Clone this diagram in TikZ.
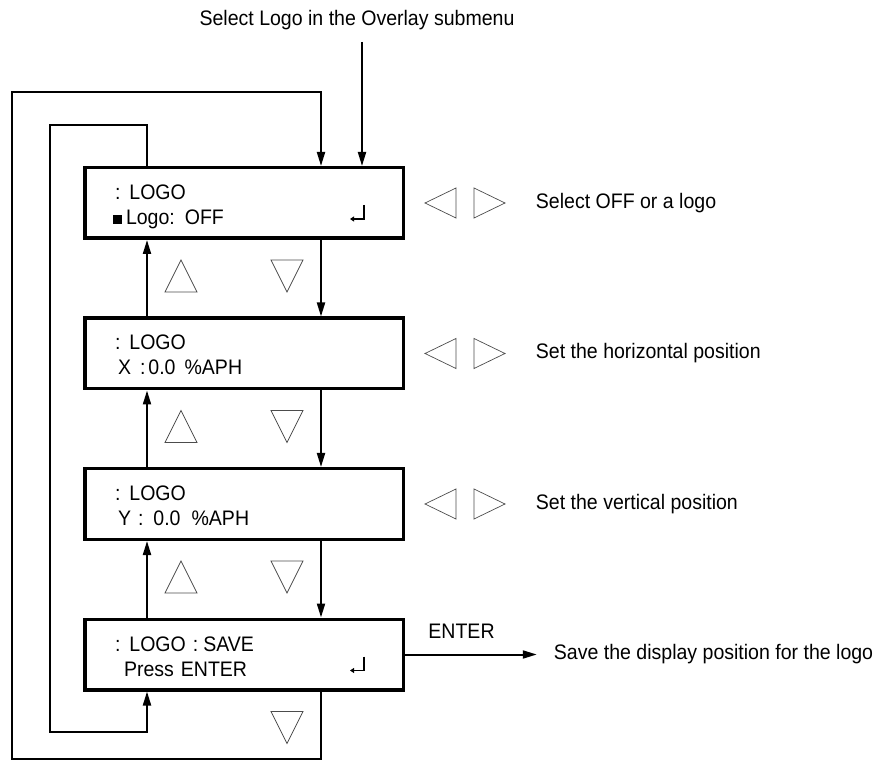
\documentclass[tikz,border=0pt]{standalone}
\usepackage{fontspec}
\setmainfont[FakeStretch=0.93]{Liberation Sans}
\usetikzlibrary{positioning, arrows.meta}
\tikzset{
    lcd/.style={rectangle, draw=black, line width=3.5pt, minimum width=318.5pt, minimum height=70.5pt, inner xsep=30.25pt, inner ysep=0pt, text width=258pt, align=left, text height=17pt, text depth=24pt, font=\fontsize{21}{25}\selectfont},
    note/.style={inner sep=0pt, font=\fontsize{21}{25}\selectfont},
    flow/.style={line width=2pt, -{Triangle[length=14pt, width=8pt]}},
    key/.style={line width=0.7pt, draw=black!70},
    ret/.style={line width=1.3pt, -{Triangle[length=4pt, width=5pt]}},
}
\newcommand{\lrkeys}[1]{%
    \draw[key] ([xshift=20pt]#1.east) -- ([xshift=51pt,yshift=15pt]#1.east) -- ([xshift=51pt,yshift=-15pt]#1.east) -- cycle;
    \draw[key] ([xshift=100pt]#1.east) -- ([xshift=69pt,yshift=15pt]#1.east) -- ([xshift=69pt,yshift=-15pt]#1.east) -- cycle;
}
\newcommand{\upkey}[1]{%
    \draw[key] ([xshift=98pt,yshift=-20pt]#1.south west) -- ([xshift=82pt,yshift=-52pt]#1.south west) -- ([xshift=114pt,yshift=-52pt]#1.south west) -- cycle;
}
\newcommand{\downkey}[1]{%
    \draw[key] ([xshift=204pt,yshift=-52pt]#1.south west) -- ([xshift=188pt,yshift=-20pt]#1.south west) -- ([xshift=220pt,yshift=-20pt]#1.south west) -- cycle;
}
\newcommand{\retmark}[1]{%
    \draw[ret] ([xshift=-41pt,yshift=-39pt]#1.north east) -- ++(0,-14pt) -- ++(-14pt,0);
}
\begin{document}
\begin{tikzpicture}[x=1pt, y=1pt, node distance=76.5pt]
    \useasboundingbox (0,0) rectangle (878,761);
    % menu screens
    \node [lcd] (logo) at (244,558) {:\hspace{9pt}LOGO\\\hspace*{-2pt}\rule{9pt}{9pt}\hspace{4pt}Logo:\hspace{10pt}OFF};
    \node [lcd] (posx) [below=of logo] {:\hspace{9pt}LOGO\\\hspace*{3pt}X\hspace{9pt}:\hspace{3pt}0.0\hspace{9pt}\%APH};
    \node [lcd] (posy) [below=of posx] {:\hspace{9pt}LOGO\\\hspace*{3pt}Y\hspace{7pt}:\hspace{10pt}0.0\hspace{11pt}\%APH};
    \node [lcd] (save) [below=of posy] {:\hspace{9pt}LOGO\hspace{7pt}:\hspace{5pt}SAVE\\\hspace*{9pt}Press ENTER};
    % notes
    \node [note] (title) at (357,741) {Select Logo in the Overlay submenu};
    \node [note] (offnote) [right=130.75pt of logo] {Select OFF or a logo};
    \node [note] (xnote) [right=130.75pt of posx] {Set the horizontal position};
    \node [note] (ynote) [right=130.75pt of posy] {Set the vertical position};
    \node [note] (savenote) [right=148.75pt of save] {Save the display position for the logo};
    \coordinate (entry) at (362,719);
    \coordinate (outertop) at (12,669);
    \coordinate (outerbot) at (12,2);
    \coordinate (innertop) at (50,636);
    \coordinate (innerbot) at (50,29);
    % connectors
    \draw[flow] (entry) -- (entry |- logo.north);
    \draw[flow] ([xshift=238pt]logo.south west) -- ([xshift=238pt]posx.north west);
    \draw[flow] ([xshift=238pt]posx.south west) -- ([xshift=238pt]posy.north west);
    \draw[flow] ([xshift=238pt]posy.south west) -- ([xshift=238pt]save.north west);
    \draw[flow] ([xshift=64pt]posx.north west) -- ([xshift=64pt]logo.south west);
    \draw[flow] ([xshift=64pt]posy.north west) -- ([xshift=64pt]posx.south west);
    \draw[flow] ([xshift=64pt]save.north west) -- ([xshift=64pt]posy.south west);
    \draw[flow] ([xshift=238pt]save.south west) |- (outerbot) -- (outertop) -| ([xshift=238pt]logo.north west);
    \draw[flow] ([xshift=64pt]logo.north west) |- (innertop) -- (innerbot) -| ([xshift=64pt]save.south west);
    \draw[flow] (save) -- (savenote) [shorten >=17pt] node [pos=0.38, above=15pt, note] (enter) {ENTER};
    % keys
    \lrkeys{logo}
    \lrkeys{posx}
    \lrkeys{posy}
    \upkey{logo}
    \downkey{logo}
    \upkey{posx}
    \downkey{posx}
    \upkey{posy}
    \downkey{posy}
    \downkey{save}
    \retmark{logo}
    \retmark{save}
\end{tikzpicture}
\end{document}
